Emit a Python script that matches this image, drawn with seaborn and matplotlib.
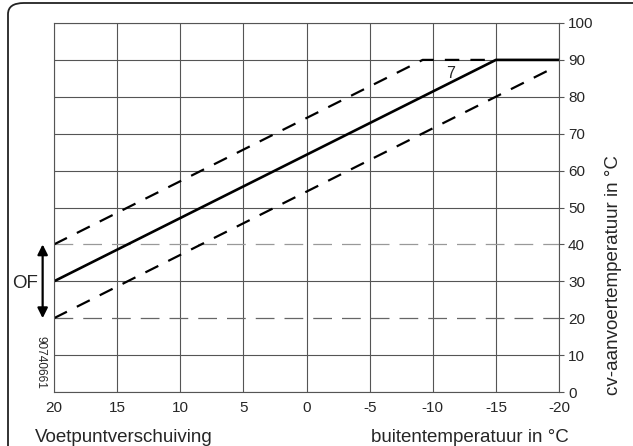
import numpy as np
import pandas as pd
import matplotlib
matplotlib.use("Agg")
import matplotlib.pyplot as plt
import seaborn as sns
from matplotlib.patches import FancyBboxPatch

# ---- data ----
x_ticks = [20, 15, 10, 5, 0, -5, -10, -15, -20]
y_ticks = [0, 10, 20, 30, 40, 50, 60, 70, 80, 90, 100]
curve_x = [20, -15, -20]          # heating curve 7
curve_y = [30, 90, 90]
upper_x = [20, -9.2, -15]         # curve shifted +10
upper_y = [40, 90, 90]
lower_x = [20, -19.3]             # curve shifted -10
lower_y = [20, 87.4]
offset_levels = [20, 40]          # base-point offset range
curve_label = "7"

sns.set_style("white")
plt.rcParams['font.family'] = ['Liberation Sans', 'DejaVu Sans']

fig = plt.figure(figsize=(6.33, 4.46), dpi=100)
ax = fig.add_axes([54/633, 1 - 392/446, (559-54)/633, (392-23)/446])

grid_c = "#555555"
sns.lineplot(x=curve_x, y=curve_y, ax=ax, color="black", lw=1.9, sort=False, estimator=None)
sns.lineplot(x=upper_x, y=upper_y, ax=ax, color="black", lw=1.6, sort=False, estimator=None,
             linestyle=(0, (6.5, 5)))
sns.lineplot(x=lower_x, y=lower_y, ax=ax, color="black", lw=1.6, sort=False, estimator=None,
             linestyle=(0, (6.5, 5)))
for lv, c in zip(offset_levels, ["#666666", "#999999"]):
    ax.axhline(lv, color=c, lw=0.9, linestyle=(0, (15, 8)), zorder=1)

ax.set_xlim(20, -20)
ax.set_ylim(0, 100)
ax.set_xticks(x_ticks)
ax.set_yticks(y_ticks)
ax.set_xticklabels([str(v) for v in x_ticks])
ax.set_yticklabels([str(v) for v in y_ticks])
ax.yaxis.tick_right()
ax.tick_params(axis="both", direction="out", length=3.5, width=0.8, color=grid_c,
               labelsize=11, pad=3)
ax.tick_params(axis="y", left=False)
ax.grid(True, color=grid_c, lw=0.8, zorder=0)
ax.set_axisbelow(True)
for t in ax.yaxis.get_major_ticks():
    if t.get_loc() in offset_levels:
        t.gridline.set_visible(False)
for s in ax.spines.values():
    s.set_color(grid_c)
    s.set_linewidth(0.8)
ax.set_xlabel("")
ax.set_ylabel("")

# curve label
ax.text(-11.4, 86.3, curve_label, fontsize=11.5, ha="center", va="center")

# offset arrow
ax.annotate("", xy=(20.9, offset_levels[0]), xytext=(20.9, offset_levels[1]),
            arrowprops=dict(arrowstyle="<|-|>", color="black", lw=1.6,
                            mutation_scale=15, shrinkA=0, shrinkB=0),
            annotation_clip=False)
fig.text(25/633, 1 - 283/446, "OF", fontsize=13.5, ha="center", va="center")
fig.text(40/633, 1 - 362/446, "90740661", fontsize=8.5, rotation=270,
         ha="center", va="center")

fig.text(35/633, 1 - 442/446, "Voetpuntverschuiving", fontsize=13.5, ha="left", va="baseline")
fig.text(470/633, 1 - 442/446, "buitentemperatuur in °C", fontsize=13.5, ha="center", va="baseline")
fig.text(613/633, 1 - 275/446, "cv-aanvoertemperatuur in °C", fontsize=13.5,
         rotation=90, ha="center", va="center")

# rounded outer frame
frame = FancyBboxPatch((8/633, -0.1), 1.2, 1 - 3/446 + 0.1,
                       boxstyle="round,pad=0,rounding_size=0.025",
                       transform=fig.transFigure, fill=False, ec="#222222", lw=1.3,
                       clip_on=False)
fig.patches.append(frame)

fig.savefig("out.png", dpi=100)
